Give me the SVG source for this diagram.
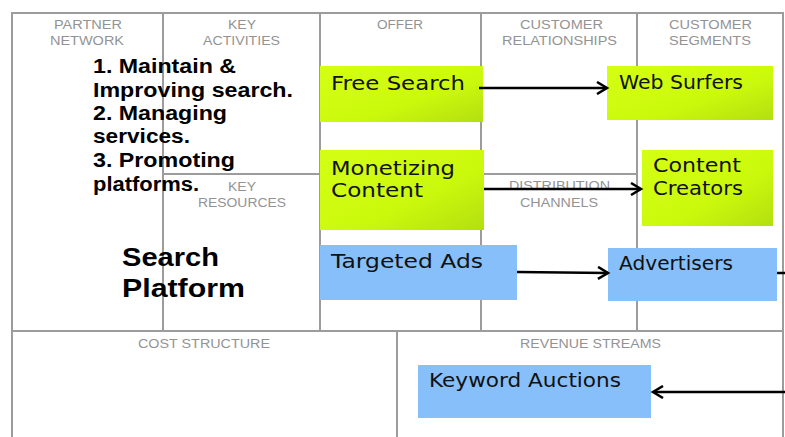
<svg xmlns="http://www.w3.org/2000/svg" width="785" height="437" viewBox="0 0 785 437">
<style>
.grid{stroke:#9c9c9c;stroke-width:2;fill:none}
.hdr{font-family:"Liberation Sans",Arial,sans-serif;font-size:12.5px;fill:#939393;text-anchor:start}
.bold{font-family:"Liberation Sans",Arial,sans-serif;font-weight:bold;font-size:20px;fill:#000}
.big{font-family:"Liberation Sans",Arial,sans-serif;font-weight:bold;font-size:26px;fill:#000}
.lbl{font-family:"DejaVu Sans","Liberation Sans",sans-serif;font-size:19px;fill:#111}
.green{fill:url(#g)}
.blue{fill:#86bff9}
.conn{stroke:#000;stroke-width:2.5;fill:none;marker-end:url(#arr)}
</style>
<defs>
<linearGradient id="g" x1="0" y1="0" x2="1" y2="1">
<stop offset="0" stop-color="#d4ff14"/>
<stop offset="0.6" stop-color="#cbf90c"/>
<stop offset="1" stop-color="#b3df10"/>
</linearGradient>
<marker id="arr" markerUnits="userSpaceOnUse" markerWidth="14" markerHeight="14" refX="11" refY="7" orient="auto">
<path d="M1,1 L11,7 L1,13" stroke="#000" stroke-width="2.5" fill="none"/>
</marker>
</defs>
<rect width="785" height="437" fill="#fff"/>
<g id="canvas-grid">
<path class="grid" d="M12,437 V13 H783 V437 M163,13 V331 M320,13 V331 M481,13 V331 M637,13 V331 M163,174 H320 M481,174 H637 M12,331 H783 M397,331 V437"/>
<text class="hdr" x="54" y="29" textLength="68" lengthAdjust="spacingAndGlyphs">PARTNER</text>
<text class="hdr" x="50" y="45" textLength="74" lengthAdjust="spacingAndGlyphs">NETWORK</text>
<text class="hdr" x="228" y="29" textLength="28" lengthAdjust="spacingAndGlyphs">KEY</text>
<text class="hdr" x="203" y="45" textLength="77" lengthAdjust="spacingAndGlyphs">ACTIVITIES</text>
<text class="hdr" x="377" y="29" textLength="46" lengthAdjust="spacingAndGlyphs">OFFER</text>
<text class="hdr" x="520" y="29" textLength="83" lengthAdjust="spacingAndGlyphs">CUSTOMER</text>
<text class="hdr" x="502" y="45" textLength="115" lengthAdjust="spacingAndGlyphs">RELATIONSHIPS</text>
<text class="hdr" x="669" y="29" textLength="83" lengthAdjust="spacingAndGlyphs">CUSTOMER</text>
<text class="hdr" x="669" y="45" textLength="82" lengthAdjust="spacingAndGlyphs">SEGMENTS</text>
<text class="hdr" x="228" y="191" textLength="28" lengthAdjust="spacingAndGlyphs">KEY</text>
<text class="hdr" x="198" y="207" textLength="88" lengthAdjust="spacingAndGlyphs">RESOURCES</text>
<text class="hdr" x="509" y="190" textLength="101" lengthAdjust="spacingAndGlyphs">DISTRIBUTION</text>
<text class="hdr" x="520" y="207" textLength="78" lengthAdjust="spacingAndGlyphs">CHANNELS</text>
<text class="hdr" x="138" y="348" textLength="132" lengthAdjust="spacingAndGlyphs">COST STRUCTURE</text>
<text class="hdr" x="520" y="348" textLength="141" lengthAdjust="spacingAndGlyphs">REVENUE STREAMS</text>
</g>
<g id="key-activities-text">
<text class="bold" x="93" y="73" textLength="143" lengthAdjust="spacingAndGlyphs">1. Maintain &amp;</text>
<text class="bold" x="93" y="97" textLength="200" lengthAdjust="spacingAndGlyphs">Improving search.</text>
<text class="bold" x="93" y="120" textLength="134" lengthAdjust="spacingAndGlyphs">2. Managing</text>
<text class="bold" x="93" y="143" textLength="97" lengthAdjust="spacingAndGlyphs">services.</text>
<text class="bold" x="93" y="167" textLength="142" lengthAdjust="spacingAndGlyphs">3. Promoting</text>
<text class="bold" x="93" y="191" textLength="106" lengthAdjust="spacingAndGlyphs">platforms.</text>
</g>
<g id="search-platform">
<text class="big" x="122" y="266" textLength="97" lengthAdjust="spacingAndGlyphs">Search</text>
<text class="big" x="122" y="297" textLength="123" lengthAdjust="spacingAndGlyphs">Platform</text>
</g>
<g id="free-search">
<rect class="green" x="320" y="66" width="163" height="56"/>
<text class="lbl" x="331" y="90" textLength="134" lengthAdjust="spacingAndGlyphs">Free Search</text>
</g>
<g id="web-surfers">
<rect class="green" x="607" y="66" width="166" height="54"/>
<text class="lbl" x="619" y="89" textLength="124" lengthAdjust="spacingAndGlyphs">Web Surfers</text>
</g>
<g id="monetizing-content">
<rect class="green" x="320" y="150" width="164" height="80"/>
<text class="lbl" x="331" y="175" textLength="124" lengthAdjust="spacingAndGlyphs">Monetizing</text>
<text class="lbl" x="331" y="197" textLength="92" lengthAdjust="spacingAndGlyphs">Content</text>
</g>
<g id="content-creators">
<rect class="green" x="642" y="150" width="131" height="76"/>
<text class="lbl" x="653" y="172" textLength="88" lengthAdjust="spacingAndGlyphs">Content</text>
<text class="lbl" x="653" y="195" textLength="90" lengthAdjust="spacingAndGlyphs">Creators</text>
</g>
<g id="targeted-ads">
<rect class="blue" x="320" y="245" width="197" height="55"/>
<text class="lbl" x="331" y="268" textLength="152" lengthAdjust="spacingAndGlyphs">Targeted Ads</text>
</g>
<g id="advertisers">
<rect class="blue" x="608" y="248" width="169" height="53"/>
<text class="lbl" x="619" y="270" textLength="114" lengthAdjust="spacingAndGlyphs">Advertisers</text>
</g>
<g id="keyword-auctions">
<rect class="blue" x="418" y="365" width="233" height="53"/>
<text class="lbl" x="429" y="387" textLength="192" lengthAdjust="spacingAndGlyphs">Keyword Auctions</text>
</g>
<g id="connectors">
<path class="conn" d="M479,88 H607"/>
<path class="conn" d="M484,189 H641"/>
<path class="conn" d="M517,272 L608,273"/>
<path class="conn" d="M777,273 H800 V392 H653"/>
</g>
</svg>
